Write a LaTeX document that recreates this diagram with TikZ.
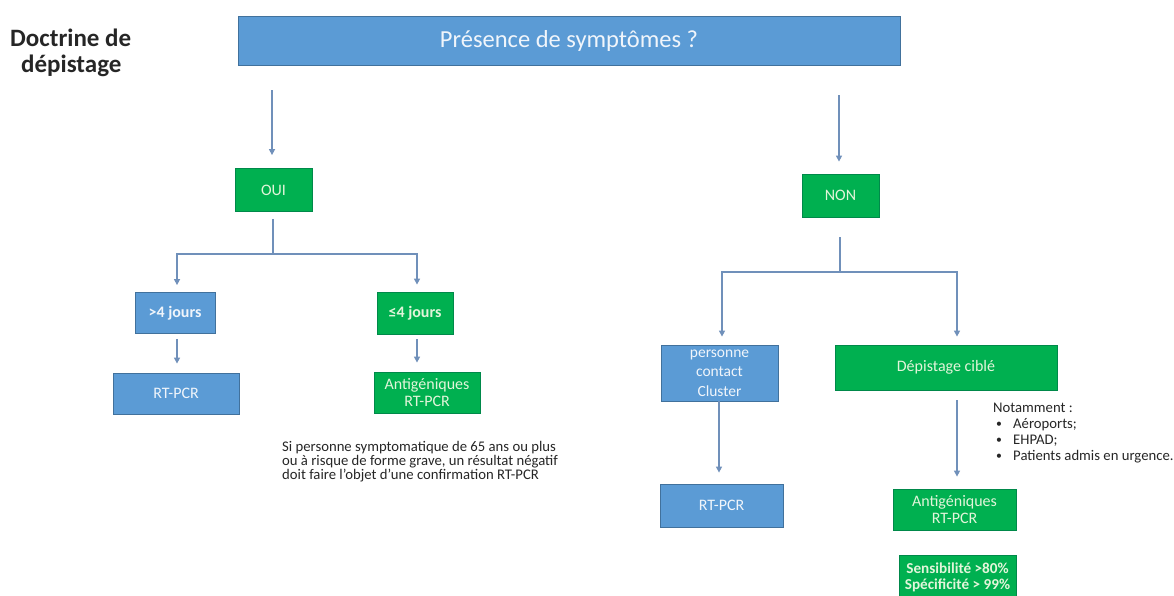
\documentclass[tikz,border=0pt]{standalone}
\usepackage{fontspec}
\setmainfont{Carlito}
\usetikzlibrary{arrows.meta}
\definecolor{bfill}{HTML}{5B9BD5}
\definecolor{bdraw}{HTML}{41719C}
\definecolor{gfill}{HTML}{00B050}
\definecolor{gdraw}{HTML}{00894A}
\definecolor{gtext}{HTML}{E2F5DA}
\definecolor{btext}{HTML}{F0F5FB}
\definecolor{lcol}{HTML}{7090BA}
\tikzset{
  bluebox/.style={draw=bdraw, fill=bfill, line width=0.8pt, text=btext, inner sep=0pt, align=center, font=\fontsize{16}{19}\selectfont},
  greenbox/.style={draw=gdraw, fill=gfill, line width=0.8pt, text=gtext, inner sep=0pt, align=center, font=\fontsize{16}{19}\selectfont},
  conn/.style={draw=lcol, line width=1.4pt},
  arr/.style={conn, -{Triangle[length=6pt,width=6pt]}},
  plain/.style={inner sep=0pt, align=left, text=black!85}
}
\begin{document}
\begin{tikzpicture}[x=1pt,y=-1pt]
\useasboundingbox (0,0) rectangle (1174,596);
% title
\node[plain, anchor=west, font=\fontsize{25}{26}\selectfont\bfseries, align=left] (title) at (10,53) {Doctrine de\\\hspace*{11pt}dépistage};
% top
\node[bluebox, minimum width=662, minimum height=49, font=\fontsize{24.5}{28}\selectfont] (top) at (569,40.5) {Présence de symptômes ?};
% left branch
\node[greenbox, minimum width=77, minimum height=43] (oui) at (273.5,190) {OUI};
\node[bluebox, minimum width=80, minimum height=41, font=\fontsize{16}{19}\selectfont\bfseries] (gt4) at (175,313) {>4 jours};
\node[greenbox, minimum width=76, minimum height=42, font=\fontsize{16}{19}\selectfont\bfseries] (le4) at (415,313) {≤4 jours};
\node[bluebox, minimum width=126, minimum height=41] (rt1) at (176,393.5) {RT-PCR};
\node[greenbox, minimum width=106, minimum height=41, font=\fontsize{16}{17}\selectfont] (ag1) at (427,392.5) {Antigéniques\\RT-PCR};
\node[plain, anchor=north west, font=\fontsize{14.7}{14.2}\selectfont] (note) at (282,441) {Si personne symptomatique de 65 ans ou plus\\ou à risque de forme grave, un résultat négatif\\doit faire l’objet d’une confirmation RT-PCR};
% right branch
\node[greenbox, minimum width=77, minimum height=43] (non) at (840.5,195.5) {NON};
\node[bluebox, minimum width=117, minimum height=56, font=\fontsize{15.5}{19.5}\selectfont] (pc) at (719.5,373) {personne\\contact\\Cluster};
\node[greenbox, minimum width=222, minimum height=45] (dc) at (946,367.5) {Dépistage ciblé};
\node[bluebox, minimum width=123, minimum height=43] (rt2) at (721.5,505.5) {RT-PCR};
\node[greenbox, minimum width=123, minimum height=41, font=\fontsize{16}{17}\selectfont] (ag2) at (954.5,509.5) {Antigéniques\\RT-PCR};
\node[greenbox, minimum width=117, minimum height=44, font=\fontsize{15.2}{16}\selectfont\bfseries] (sens) at (957.5,577) {Sensibilité >80\%\\Spécificité > 99\%};
\node[plain, anchor=north west, font=\fontsize{14.7}{16}\selectfont] (nota) at (993,403) {Notamment :\\\hspace*{3pt}\makebox[17pt][l]{\raisebox{1pt}{\scalebox{0.8}{•}}}Aéroports;\\\hspace*{3pt}\makebox[17pt][l]{\raisebox{1pt}{\scalebox{0.8}{•}}}EHPAD;\\\hspace*{3pt}\makebox[17pt][l]{\raisebox{1pt}{\scalebox{0.8}{•}}}Patients admis en urgence.};
% junctions
\coordinate (j1) at (273,254);
\coordinate (j2) at (840,272);
% connectors left
\draw[arr, shorten <=25, shorten >=13] (top.south -| 272,0) -- (oui.north -| 272,0);
\draw[conn, shorten <=7] (oui.south -| j1) -- (j1);
\draw[arr, shorten >=7] (j1) -| (gt4.north -| 177,0);
\draw[arr, shorten >=7] (j1) -| (le4.north -| 417,0);
\draw[arr, shorten <=5, shorten >=9] (gt4.south -| 177,0) -- (rt1.north -| 177,0);
\draw[arr, shorten <=5, shorten >=9] (le4.south -| 417,0) -- (ag1.north -| 417,0);
% connectors right
\draw[arr, shorten <=30, shorten >=12] (top.south -| 839,0) -- (non.north -| 839,0);
\draw[conn, shorten <=20] (non.south -| j2) -- (j2);
\draw[arr, shorten >=8] (j2) -| (pc.north -| 722,0);
\draw[arr, shorten >=8] (j2) -| (dc.north -| 957,0);
\draw[arr, shorten >=11] (pc.south -| 719,0) -- (rt2.north -| 719,0);
\draw[arr, shorten <=10, shorten >=12] (dc.south -| 957,0) -- (ag2.north -| 957,0);
\end{tikzpicture}
\end{document}
